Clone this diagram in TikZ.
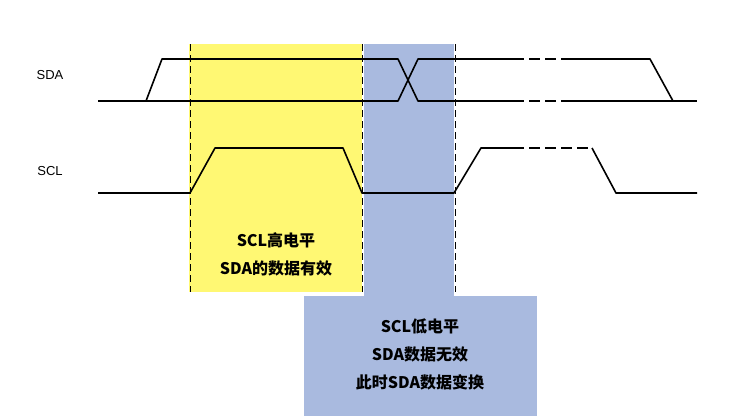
\documentclass[tikz,border=0pt]{standalone}
\usepackage{fontspec}
\setmainfont{Liberation Sans}
\newfontfamily\cjk{Noto Sans CJK SC}
\begin{document}
\begin{tikzpicture}[x=1pt,y=-1pt,
  wave/.style={line width=1.6pt,black,line join=round},
  dwave/.style={wave,dash pattern=on 11pt off 5pt},
  guide/.style={black,line width=0.7pt,dash pattern=on 7pt off 4pt},
  lbl/.style={font=\fontsize{13}{15}\selectfont},
  boxtxt/.style={font=\cjk\bfseries\fontsize{16}{28}\selectfont,align=center}]
\useasboundingbox (0,0) rectangle (754,416);
\fill[white] (0,0) rectangle (754,416);
\fill[yellow!55!white] (189,44) rectangle (362,292);
\fill[fill={rgb,255:red,169;green,186;blue,223}] (364,44) rectangle (454,296);
\fill[fill={rgb,255:red,169;green,186;blue,223}] (304,296) rectangle (537,416);
\foreach \x in {190,362,455} \draw[guide] (\x,44) -- (\x,292);
\node[lbl] (sda) at (50,75) {SDA};
\node[lbl] (scl) at (50,171) {SCL};
% SDA
\draw[wave] (98,101) -- (146,101) -- (162,59) -- (398,59) -- (418,101) -- (513,101);
\draw[wave] (146,101) -- (398,101) -- (418,59) -- (513,59);
\draw[dwave] (513,59) -- (570,59);
\draw[dwave] (513,101) -- (570,101);
\draw[wave] (570,59) -- (650,59) -- (673,101);
\draw[wave] (570,101) -- (697,101);
% SCL
\draw[wave] (98,193) -- (190,193) -- (215,148) -- (343,148) -- (362,193) -- (454,193) -- (481,148) -- (513,148);
\draw[dwave] (513,148) -- (592,148);
\draw[wave] (592,148) -- (616,193) -- (697,193);
\node[boxtxt] (t1) at (276,254) {SCL高电平\\SDA的数据有效};
\node[boxtxt] (t2) at (420,354) {SCL低电平\\SDA数据无效\\此时SDA数据变换};
\end{tikzpicture}
\end{document}
